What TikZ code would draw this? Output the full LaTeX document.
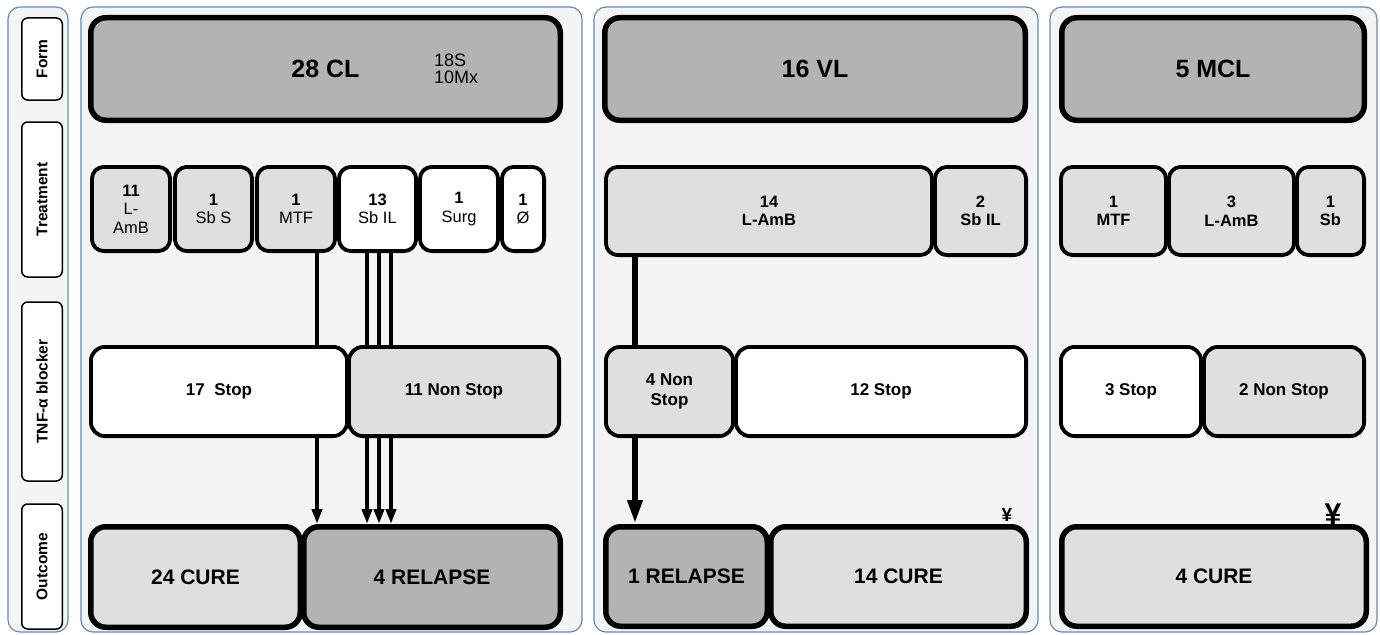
\documentclass[tikz,border=0pt]{standalone}
\usepackage{fontspec}
\setmainfont{Liberation Sans}
\usetikzlibrary{arrows.meta}
\definecolor{panelfill}{HTML}{F4F4F4}
\definecolor{panelline}{HTML}{6A8AB8}
\definecolor{darkg}{HTML}{B3B3B3}
\definecolor{lightg}{HTML}{DFDFDF}
\newcommand\bx[8]{\node[#7, minimum width={#4-#2-#6}, minimum height={#5-#3-#6}, inner sep=0pt] (#1) at ({(#2+#4)/2},{(#3+#5)/2}) {#8};}
\begin{document}
\begin{tikzpicture}[x=1pt,y=-1pt,
  panel/.style={draw=panelline, line width=1.2pt, fill=panelfill, rounded corners=12pt},
  formbox/.style={draw, line width=5.5pt, fill=darkg, rounded corners=15pt, font=\bfseries\fontsize{25}{28}\selectfont},
  treatbox/.style={draw, line width=3.8pt, rounded corners=12pt, align=center, font=\fontsize{16.5}{18.5}\selectfont},
  treatboxb/.style={treatbox, font=\bfseries\fontsize{16.5}{18.5}\selectfont},
  tnfbox/.style={draw, line width=3.8pt, rounded corners=14pt, align=center, font=\bfseries\fontsize{17}{20}\selectfont},
  outbox/.style={draw, line width=5.5pt, rounded corners=15pt, font=\bfseries\fontsize{21}{24}\selectfont},
  labbox/.style={draw, line width=1.5pt, fill=white, rounded corners=6pt, rotate=90, inner sep=0pt, font=\bfseries\fontsize{15.5}{17}\selectfont},
  thinconn/.style={line width=3.8pt},
  thickconn/.style={line width=6.5pt},
  thinarr/.style={thinconn, -{Triangle[length=15pt,width=10pt]}},
  thickarr/.style={thickconn, -{Triangle[length=24pt,width=14pt]}},
  yen/.style={inner sep=0pt, font=\bfseries\fontsize{#1}{#1}\selectfont}
]
\useasboundingbox (0,0) rectangle (1380,634);
\fill[white] (0,0) rectangle (1380,634);
% panels
\path[panel] (8,7) rectangle (68,632);
\path[panel] (81,7) rectangle (582,632);
\path[panel] (594,7) rectangle (1038,632);
\path[panel] (1050,7) rectangle (1377,632);
% row labels
\node[labbox, minimum width=82, minimum height=40.5] (lform) at (42,59) {Form};
\node[labbox, minimum width=155, minimum height=40.5] (ltreat) at (42,199.5) {Treatment};
\node[labbox, minimum width=179, minimum height=40.5] (ltnf) at (42,391.5) {TNF-α blocker};
\node[labbox, minimum width=125, minimum height=40.5] (lout) at (42,566.5) {Outcome};
% form
\bx{clform}{88}{15}{563}{123}{5.5}{formbox}{28 CL}
\node[anchor=west, align=left, inner sep=0pt, font=\fontsize{18}{17}\selectfont] (clsub) at (434,69) {18S\\10Mx};
\bx{vlform}{602}{15}{1028}{123}{5.5}{formbox}{16 VL}
\bx{mclform}{1059}{15}{1367}{123}{5.5}{formbox}{5 MCL}
% treatment CL
\bx{lamb}{90}{165}{172}{253}{3.8}{treatbox, fill=lightg}{\textbf{11}\\L-\\AmB}
\bx{sbs}{173}{165}{254}{253}{3.8}{treatbox, fill=lightg}{\textbf{1}\\Sb S}
\bx{mtf}{255}{165}{337}{253}{3.8}{treatbox, fill=lightg}{\textbf{1}\\MTF}
\bx{sbil}{337}{165}{418}{253}{3.8}{treatbox, fill=white}{\textbf{13}\\Sb IL}
\bx{surg}{418}{165}{500}{253}{3.8}{treatbox, fill=white}{\textbf{1}\\Surg}
\bx{none}{500}{165}{546}{253}{3.8}{treatbox, fill=white}{\textbf{1}\\Ø}
% treatment VL
\bx{vllamb}{604}{165}{934}{257}{3.8}{treatboxb, fill=lightg}{14\\L-AmB}
\bx{vlsbil}{933}{165}{1028}{257}{3.8}{treatboxb, fill=lightg}{2\\Sb IL}
% treatment MCL
\bx{mclmtf}{1059}{165}{1168}{257}{3.8}{treatboxb, fill=lightg}{1\\MTF}
\bx{mcllamb}{1167}{165}{1296}{257}{3.8}{treatboxb, fill=lightg}{3\\L-AmB}
\bx{mclsb}{1295}{165}{1366}{257}{3.8}{treatboxb, fill=lightg}{1\\Sb}
% TNF
\bx{stop17}{89}{345}{349}{438}{3.8}{tnfbox, fill=white}{17~~Stop}
\bx{nonstop11}{347}{345}{561}{438}{3.8}{tnfbox, fill=lightg}{11 Non Stop}
\bx{nonstop4}{604}{345}{735}{438}{3.8}{tnfbox, fill=lightg}{4 Non\\Stop}
\bx{stop12}{734}{345}{1028}{438}{3.8}{tnfbox, fill=white}{12 Stop}
\bx{stop3}{1059}{345}{1203}{438}{3.8}{tnfbox, fill=white}{3 Stop}
\bx{nonstop2}{1202}{345}{1366}{438}{3.8}{tnfbox, fill=lightg}{2 Non Stop}
% outcome
\bx{cure24}{88}{524}{303}{630}{5.5}{outbox, fill=lightg}{24 CURE}
\bx{relapse4}{301}{524}{563}{630}{5.5}{outbox, fill=darkg}{4 RELAPSE}
\bx{relapse1}{603}{524}{770}{629}{5.5}{outbox, fill=darkg}{1 RELAPSE}
\bx{cure14}{768}{524}{1029}{629}{5.5}{outbox, fill=lightg}{14 CURE}
\bx{cure4}{1059}{524}{1369}{629}{5.5}{outbox, fill=lightg}{4 CURE}
% yen marks
\node[yen=19] (yen1) at (1007,515) {¥};
\node[yen=30] (yen2) at (1333,514) {¥};
% connectors
\coordinate (a1) at (317,0);
\coordinate (a2) at (367,0);
\coordinate (a3) at (379,0);
\coordinate (a4) at (391,0);
\coordinate (a5) at (635,0);
\draw[thinconn] (mtf.south -| a1) -- (stop17.north -| a1);
\draw[thinarr] (stop17.south -| a1) -- (relapse4.north -| a1);
\foreach \c in {a2,a3,a4}{
  \draw[thinconn] (sbil.south -| \c) -- (nonstop11.north -| \c);
  \draw[thinarr] (nonstop11.south -| \c) -- (relapse4.north -| \c);
}
\draw[thickconn] (vllamb.south -| a5) -- (nonstop4.north -| a5);
\draw[thickarr] (nonstop4.south -| a5) -- (relapse1.north -| a5);
\end{tikzpicture}
\end{document}
